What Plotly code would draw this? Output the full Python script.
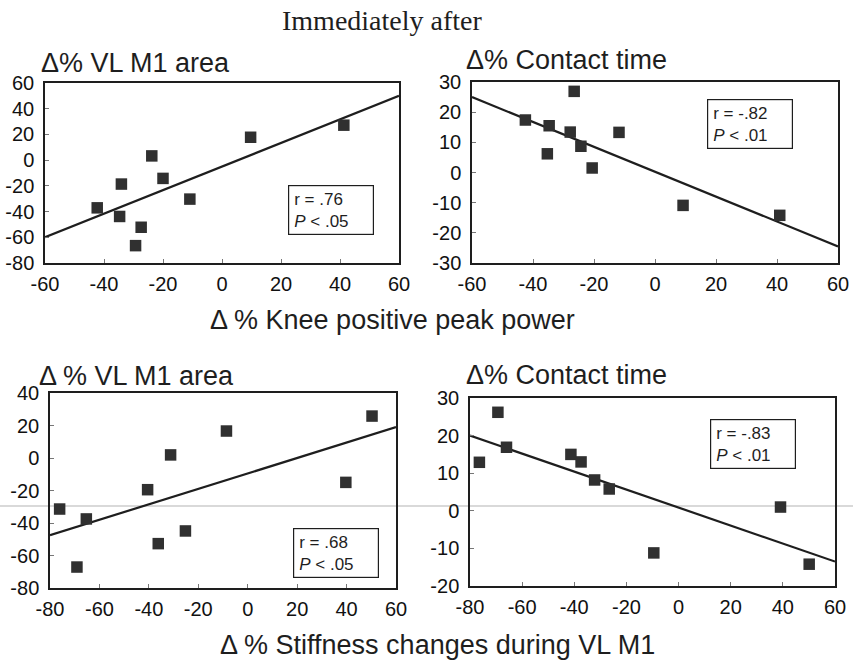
import plotly.graph_objects as go

# Panel A: knee positive peak power vs VL M1 area
knee_a = [41.3, 9.7, -23.8, -20.0, -34.1, -10.9, -42.3, -34.7, -27.4, -29.3]
vl_area_a = [27.2, 17.8, 3.3, -14.2, -18.6, -30.3, -37.1, -43.8, -52.2, -66.5]
fit_a_x = [-60, 60]
fit_a_y = [-60, 50]

# Panel B: knee positive peak power vs contact time
knee_b = [-26.5, -42.5, -34.7, -27.8, -11.8, -24.3, -35.3, -20.6, 9.2, 40.9]
contact_b = [26.9, 17.4, 15.5, 13.4, 13.3, 8.7, 6.2, 1.5, -10.9, -14.2]
fit_b_x = [-60, 60]
fit_b_y = [25, -24.5]

# Panel C: stiffness changes vs VL M1 area
stiff_c = [50.3, -8.6, -31.2, -40.5, 39.7, -76.1, -65.3, -25.2, -36.2, -69.1]
vl_area_c = [25.8, 16.6, 1.9, -19.5, -15.0, -31.4, -37.5, -44.9, -52.7, -67.1]
fit_c_x = [-80, 60]
fit_c_y = [-47.5, 19]

# Panel D: stiffness changes vs contact time
stiff_d = [-69.3, -76.4, -66.0, -41.3, -37.4, -32.2, -26.6, 39.1, -9.5, 50.1]
contact_d = [26.2, 12.9, 16.9, 15.0, 13.0, 8.2, 5.8, 1.0, -11.2, -14.2]
fit_d_x = [-80, 60]
fit_d_y = [20, -13.5]

# Tick values (labels written with a plain hyphen)
ticks_x_knee = [-60, -40, -20, 0, 20, 40, 60]
ticks_x_stiff = [-80, -60, -40, -20, 0, 20, 40, 60]
ticks_y_area_top = [-80, -60, -40, -20, 0, 20, 40, 60]
ticks_y_contact_top = [-30, -20, -10, 0, 10, 20, 30]
ticks_y_area_bottom = [-80, -60, -40, -20, 0, 20, 40]
ticks_y_contact_bottom = [-20, -10, 0, 10, 20, 30]

stats = ["r = .76<br><i>P</i> &lt; .05", "r = -.82<br><i>P</i> &lt; .01",
         "r = .68<br><i>P</i> &lt; .05", "r = -.83<br><i>P</i> &lt; .01"]

W, H = 853, 661
SANS = "Liberation Sans, Arial, Helvetica, sans-serif"
INK = "#1e1e1e"
MARK = "#303030"


def px_x(p):
    return p / W


def px_y(p):
    return 1 - p / H


panels = [
    (knee_a, vl_area_a, fit_a_x, fit_a_y, (45, 399), (83, 263), ticks_x_knee, ticks_y_area_top),
    (knee_b, contact_b, fit_b_x, fit_b_y, (472, 838), (82, 263), ticks_x_knee, ticks_y_contact_top),
    (stiff_c, vl_area_c, fit_c_x, fit_c_y, (50, 396), (393, 588), ticks_x_stiff, ticks_y_area_bottom),
    (stiff_d, contact_d, fit_d_x, fit_d_y, (470, 835), (398, 586), ticks_x_stiff, ticks_y_contact_bottom),
]

fig = go.Figure()
layout = {}
for i, (xs, ys, fx, fy, xd, yd, tx, ty) in enumerate(panels):
    n = "" if i == 0 else str(i + 1)
    xa, ya = "x" + n, "y" + n
    fig.add_trace(go.Scatter(x=fx, y=fy, mode="lines", xaxis=xa, yaxis=ya,
                             line=dict(color=INK, width=2.2), cliponaxis=False,
                             showlegend=False, hoverinfo="skip"))
    fig.add_trace(go.Scatter(x=xs, y=ys, mode="markers", xaxis=xa, yaxis=ya,
                             marker=dict(symbol="square", size=11.5, color=MARK,
                                         line=dict(width=0)),
                             cliponaxis=False, showlegend=False))
    common = dict(showline=True, linecolor=INK, linewidth=1.5, mirror=True,
                  showgrid=False, zeroline=False, ticks="inside", ticklen=4,
                  tickcolor="#777777", tickwidth=1, automargin=False,
                  tickfont=dict(family=SANS, size=20, color="#111111"))
    layout["xaxis" + n] = dict(common, domain=[px_x(xd[0]), px_x(xd[1])],
                               range=[tx[0], tx[-1]], tickmode="array", tickvals=tx,
                               ticktext=[str(v) for v in tx],
                               anchor=ya, ticklabelstandoff=2)
    layout["yaxis" + n] = dict(common, domain=[px_y(yd[1]), px_y(yd[0])],
                               range=[ty[0], ty[-1]], tickmode="array", tickvals=ty,
                               ticktext=[str(v) for v in ty],
                               anchor=xa, ticklabelstandoff=5)

annotations = []


def label(text, x, y, size, family=SANS):
    annotations.append(dict(text=text, x=px_x(x), y=px_y(y), xref="paper", yref="paper",
                            showarrow=False, xanchor="center", yanchor="middle",
                            font=dict(family=family, size=size, color=INK)))


label("Immediately after", 382, 21, 28, "Liberation Serif, Times New Roman, serif")
label("Δ% VL M1 area", 135, 63, 27)
label("Δ% Contact time", 566, 60, 27)
label("Δ % Knee positive peak power", 392, 320, 27)
label("Δ % VL M1 area", 136, 376, 27)
label("Δ% Contact time", 566, 375, 27)
label("Δ % Stiffness changes during VL M1", 437, 645, 27)

for txt, (cx, cy) in zip(stats, [(331, 210), (750, 124), (336, 553), (753, 444)]):
    annotations.append(dict(text=txt, x=px_x(cx), y=px_y(cy), xref="paper", yref="paper",
                            showarrow=False, xanchor="center", yanchor="middle",
                            align="left", width=74, height=38, borderpad=5,
                            bordercolor=INK, borderwidth=1.2, bgcolor="white",
                            font=dict(family=SANS, size=17, color=INK)))

fig.update_layout(
    width=W, height=H,
    margin=dict(l=0, r=0, t=0, b=0, autoexpand=False),
    paper_bgcolor="white", plot_bgcolor="white",
    annotations=annotations,
    shapes=[dict(type="line", xref="paper", yref="paper", x0=0, x1=1,
                 y0=px_y(506), y1=px_y(506), line=dict(color="#d9d9d9", width=2),
                 layer="below")],
    **layout,
)

fig.write_html("out.html")
